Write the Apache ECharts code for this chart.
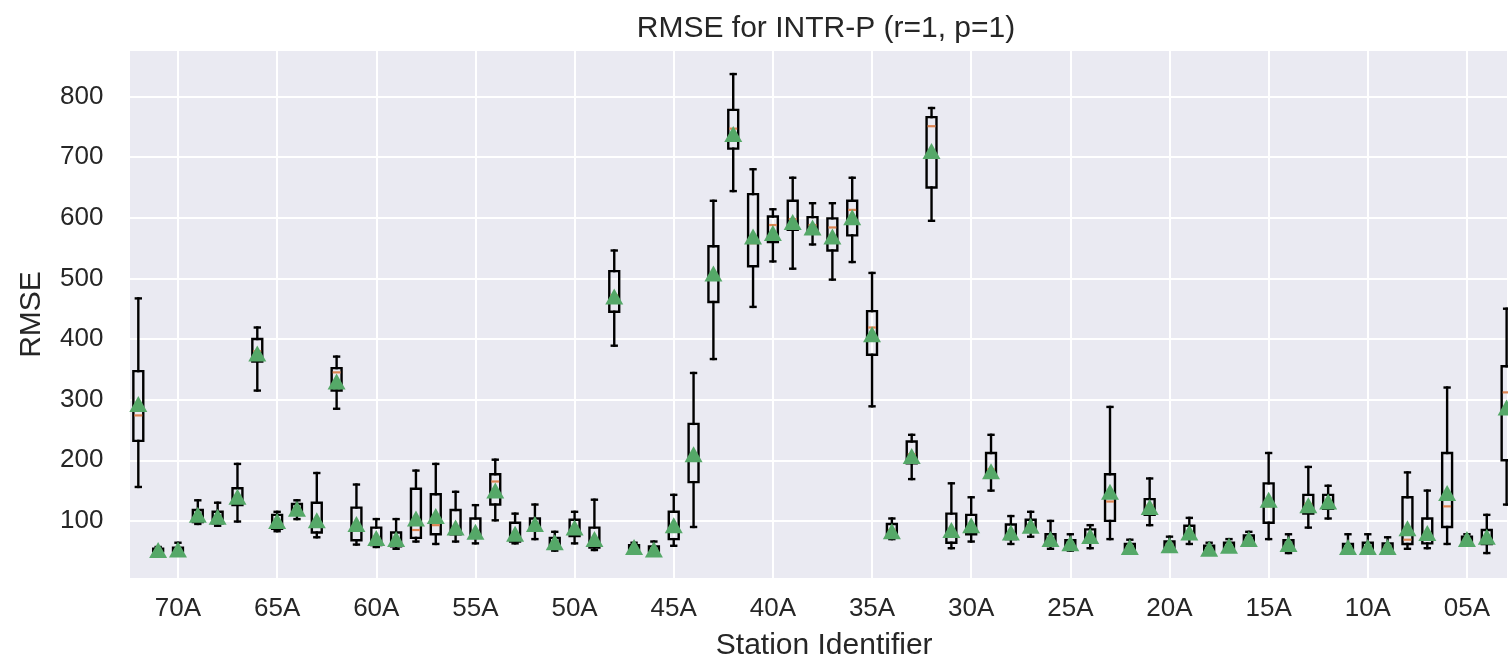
<!DOCTYPE html>
<html><head><meta charset="utf-8">
<script src="https://cdn.jsdelivr.net/npm/echarts@6/dist/echarts.min.js"></script>
<style>html,body{margin:0;padding:0;background:#fff;overflow:hidden}#c{width:1508px;height:666px}</style>
</head><body><div id="c"></div>
<script>
// Stations from left to right
const stations = ['72A','71A','70A','69A','68A','67A','66A','65A','64A','63A','62A','61A','60A','59A','58A','57A','56A','55A','54A','53A','52A','51A','50A','49A','48A','47A','46A','45A','44A','43A','42A','41A','40A','39A','38A','37A','36A','35A','34A','33A','32A','31A','30A','29A','28A','27A','26A','25A','24A','23A','22A','21A','20A','19A','18A','17A','16A','15A','14A','13A','12A','11A','10A','09A','08A','07A','06A','05A','04A','03A'];
const tickLabels = ['70A','65A','60A','55A','50A','45A','40A','35A','30A','25A','20A','15A','10A','05A'];
const yTicks = [100,200,300,400,500,600,700,800];

const whiskerLow = [156,47,47,95,92,99,315,83,103,73,285,61,57,54,66,62,66,63,101,63,70,51,63,52,389,50,48,59,90,367,644,453,528,516,556,498,527,289,70,169,595,55,66,150,62,74,54,51,55,70,50,93,52,62,48,52,60,70,47,89,104,50,50,50,54,55,62,62,47,127];
const q1 = [232,50,50,98,96,126,363,87,112,81,315,68,60,58,72,78,78,72,127,66,84,58,75,56,445,53,50,70,164,461,714,520,560,580,575,546,571,374,76,195,650,64,78,171,70,82,60,55,64,100,53,110,56,72,51,55,64,97,54,112,120,53,53,53,62,63,90,66,62,200];
const median = [274,52,52,108,104,136,380,100,120,98,345,88,72,68,85,93,88,82,165,78,94,64,88,62,472,56,53,90,205,505,747,558,588,598,588,584,613,419,85,210,751,75,92,185,80,92,68,62,74,132,57,125,60,80,54,59,70,124,60,128,132,56,57,57,69,80,124,70,72,312];
const q3 = [347,54,56,118,115,154,400,110,128,130,352,122,89,81,153,144,118,104,177,97,104,72,102,89,512,60,58,115,260,553,778,639,602,628,601,599,628,446,95,231,766,112,110,212,94,102,78,68,86,177,62,136,66,92,59,64,76,162,68,143,143,62,64,63,139,104,212,74,85,355];
const whiskerHigh = [467,57,64,134,130,194,419,115,134,179,371,160,103,103,183,194,148,126,201,112,127,82,115,135,546,64,66,143,344,628,837,680,614,666,624,624,666,509,104,242,781,162,139,242,108,115,100,78,93,288,69,170,74,105,64,70,82,212,78,189,158,78,78,73,180,150,320,78,110,450];
const means = [293,52,53,110,107,140,376,100,120,101,330,95,72,70,104,108,89,82,150,79,95,65,89,70,470,57,53,93,210,508,738,569,575,593,584,569,601,408,83,207,710,85,93,182,81,92,70,63,75,148,57,123,60,81,54,59,70,135,62,126,132,57,57,57,88,80,146,70,74,287];

const stationNum = s => parseInt(s, 10);
const boxData = stations.map((s, i) => [stationNum(s), whiskerLow[i], q1[i], median[i], q3[i], whiskerHigh[i]]);
const meanData = stations.map((s, i) => [stationNum(s), means[i]]);

const FONT = "'Liberation Sans', Arial, sans-serif";
const TXT = '#262626';

const chart = echarts.init(document.getElementById('c'), null, {renderer: 'canvas'});
chart.setOption({
  animation: false,
  backgroundColor: '#ffffff',
  title: {
    text: 'RMSE for INTR-P (r=1, p=1)',
    left: 821, top: 9, textAlign: 'center',
    textStyle: {fontFamily: FONT, fontSize: 30, fontWeight: 'normal', color: TXT}
  },
  grid: {
    left: 128.4, right: 0, top: 50, bottom: 84,
    show: true, backgroundColor: '#eaeaf2', borderWidth: 0
  },
  xAxis: {
    type: 'value', inverse: true, min: 2.93, max: 72.5, splitNumber: 14,
    name: 'Station Identifier', nameLocation: 'middle', nameGap: 52,
    nameTextStyle: {fontFamily: FONT, fontSize: 30, color: TXT, padding: [0, 0, 0, 12]},
    axisLine: {show: false}, axisTick: {show: false},
    splitLine: {show: true, lineStyle: {color: '#ffffff', width: 2}},
    axisLabel: {
      fontFamily: FONT, fontSize: 26, color: TXT, margin: 17,
      showMinLabel: false, showMaxLabel: false,
      formatter: function (v) {
        const lbl = stations.find(s => stationNum(s) === v);
        return (lbl && tickLabels.indexOf(lbl) >= 0) ? lbl : '';
      }
    }
  },
  yAxis: {
    type: 'value', min: 4.2, max: 876.7, splitNumber: 8,
    name: 'RMSE', nameLocation: 'middle', nameGap: 82,
    nameTextStyle: {fontFamily: FONT, fontSize: 30, color: TXT},
    axisLine: {show: false}, axisTick: {show: false},
    splitLine: {show: true, lineStyle: {color: '#ffffff', width: 2}},
    axisLabel: {
      fontFamily: FONT, fontSize: 26, color: TXT, margin: 25,
      showMinLabel: false, showMaxLabel: false,
      formatter: function (v) { return yTicks.indexOf(v) >= 0 ? String(v) : ''; }
    }
  },
  series: [
    {
      type: 'custom',
      data: boxData,
      encode: {x: 0, y: [1, 2, 3, 4, 5]},
      clip: false,
      z: 2,
      renderItem: function (params, api) {
        const x = api.value(0);
        const lo = api.coord([x, api.value(1)]);
        const b1 = api.coord([x, api.value(2)]);
        const md = api.coord([x, api.value(3)]);
        const b3 = api.coord([x, api.value(4)]);
        const hi = api.coord([x, api.value(5)]);
        const bw = Math.abs(api.size([0.5, 0])[0]);
        const cw = bw / 2;
        const cx = lo[0];
        const st = {stroke: '#000000', lineWidth: 2.4, fill: null, lineCap: 'square'};
        return {
          type: 'group',
          children: [
            {type: 'line', shape: {x1: cx, y1: hi[1], x2: cx, y2: b3[1]}, style: st},
            {type: 'line', shape: {x1: cx, y1: b1[1], x2: cx, y2: lo[1]}, style: st},
            {type: 'line', shape: {x1: cx - cw / 2, y1: hi[1], x2: cx + cw / 2, y2: hi[1]}, style: st},
            {type: 'line', shape: {x1: cx - cw / 2, y1: lo[1], x2: cx + cw / 2, y2: lo[1]}, style: st},
            {type: 'rect', shape: {x: cx - bw / 2, y: b3[1], width: bw, height: b1[1] - b3[1]},
              style: {stroke: '#000000', lineWidth: 2.4, fill: 'none'}},
            {type: 'line', shape: {x1: cx - bw / 2 + 1, y1: md[1], x2: cx + bw / 2 - 1, y2: md[1]},
              style: {stroke: '#dd8452', lineWidth: 2.2}}
          ]
        };
      }
    },
    {
      type: 'scatter',
      data: meanData,
      symbol: 'triangle',
      symbolSize: [18, 16],
      itemStyle: {color: '#55a868', opacity: 1},
      clip: false,
      z: 3
    }
  ]
});
</script>
</body></html>
